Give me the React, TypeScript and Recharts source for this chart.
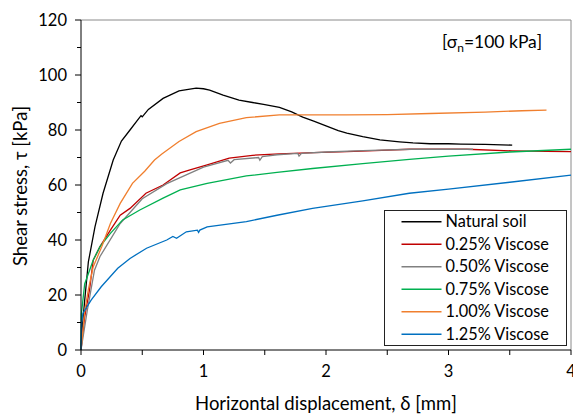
import React from 'react';
import { LineChart, Line, XAxis, YAxis, ReferenceLine, Legend, Customized } from 'recharts';

type Pt = { x: number; y: number };
const mk = (xs: number[], ys: number[]): Pt[] => xs.map((x, i) => ({ x, y: ys[i] }));

const naturalX = [0, 0.01, 0.03, 0.06, 0.114, 0.18, 0.263, 0.33, 0.4, 0.46, 0.49, 0.5, 0.55, 0.67, 0.8, 0.94, 1.0, 1.05, 1.16, 1.29, 1.4, 1.49, 1.62, 1.72, 1.81, 1.9, 2.0, 2.1, 2.17, 2.3, 2.44, 2.6, 2.71, 2.85, 3.0, 3.1, 3.3, 3.52];
const naturalY = [0, 8, 18, 32, 44.8, 57, 69.1, 76, 80, 83.5, 85.2, 84.8, 87.5, 91.5, 94.2, 95.2, 95, 94.5, 92.7, 90.9, 90, 89.3, 88.2, 86.6, 84.7, 83.2, 81.5, 79.8, 78.9, 77.6, 76.4, 75.7, 75.3, 75, 75, 74.9, 74.8, 74.5];

const v025X = [0, 0.03, 0.07, 0.1, 0.155, 0.24, 0.32, 0.4, 0.53, 0.67, 0.81, 0.89, 1.03, 1.21, 1.4, 1.62, 1.9, 2.17, 2.4, 2.68, 2.9, 3.15, 3.52, 3.8, 4.0];
const v025Y = [0, 12, 22, 32.7, 37.6, 43.6, 49, 51.5, 57, 60, 64.4, 65.5, 67.3, 69.8, 70.8, 71.3, 71.8, 72.1, 72.5, 73, 73, 73, 72.4, 72.2, 72.1];

const v050X = [0, 0.05, 0.11, 0.155, 0.32, 0.5, 0.7, 0.9, 1.0, 1.2, 1.22, 1.25, 1.45, 1.46, 1.48, 1.6, 1.77, 1.78, 1.8, 2.0, 2.3, 2.7, 3.0, 3.2];
const v050Y = [0, 14, 29, 34, 46, 55, 60.5, 64.5, 66.5, 69, 68, 69.2, 70, 69, 70.3, 71, 71.5, 70.5, 71.5, 72, 72.5, 73, 73, 73];

const v075X = [0, 0.003, 0.03, 0.1, 0.155, 0.24, 0.34, 0.48, 0.67, 0.81, 1.03, 1.35, 1.6, 1.89, 2.3, 2.68, 3.0, 3.5, 4.0];
const v075Y = [0, 13, 24, 32.7, 37.6, 42.4, 47.3, 50.9, 55.2, 58.2, 60.6, 63.3, 64.6, 66, 67.8, 69.3, 70.5, 72, 73];

const v100X = [0, 0.03, 0.06, 0.1, 0.17, 0.24, 0.32, 0.42, 0.52, 0.6, 0.66, 0.8, 0.94, 1.13, 1.35, 1.62, 1.9, 2.17, 2.5, 2.85, 3.3, 3.6, 3.8];
const v100Y = [0, 14, 22, 30.3, 37.6, 46, 53.3, 60.6, 65, 69.1, 71.3, 75.8, 79.4, 82.4, 84.5, 85.5, 85.5, 85.5, 85.6, 86, 86.5, 87, 87.2];

const v125X = [0, 0.005, 0.016, 0.084, 0.165, 0.3, 0.4, 0.535, 0.7, 0.75, 0.78, 0.86, 0.95, 0.96, 0.97, 1.03, 1.35, 1.6, 1.89, 2.3, 2.68, 3.0, 3.5, 4.0];
const v125Y = [0, 10, 13.4, 18.2, 23, 29.7, 33.3, 37, 40, 41.3, 40.6, 43, 43.6, 42.8, 43.6, 44.8, 46.7, 49, 51.5, 54.2, 57, 58.5, 61, 63.6];

const seriesNames = ['Natural soil', '0.25% Viscose', '0.50% Viscose', '0.75% Viscose', '1.00% Viscose', '1.25% Viscose'];
const seriesColors = ['#000000', '#c00000', '#808080', '#00b050', '#f07f2e', '#0070c0'];
const seriesData = [
  mk(naturalX, naturalY),
  mk(v025X, v025Y),
  mk(v050X, v050Y),
  mk(v075X, v075Y),
  mk(v100X, v100Y),
  mk(v125X, v125Y),
];

const xTicks = [0, 0.5, 1, 1.5, 2, 2.5, 3, 3.5, 4];
const yTicks = [0, 10, 20, 30, 40, 50, 60, 70, 80, 90, 100, 110, 120];

const FONT = 'Lato, "Open Sans", sans-serif';

const YTick = (props: any) => {
  const { x, y, payload } = props;
  const v = payload.value as number;
  const major = v % 20 === 0;
  return (
    <g>
      <line x1={x - (major ? 6 : 4)} x2={x} y1={y} y2={y} stroke="#000" strokeWidth={1} />
      {major && (
        <text x={x - 14} y={y} dy="0.35em" textAnchor="end" fontSize={16.5} fontFamily={FONT} fill="#000">
          {v}
        </text>
      )}
    </g>
  );
};

const XTick = (props: any) => {
  const { x, y, payload } = props;
  const v = payload.value as number;
  const major = Number.isInteger(v);
  return (
    <g>
      <line x1={x} x2={x} y1={y} y2={y + 5} stroke="#000" strokeWidth={1} />
      {major && (
        <text x={x} y={y + 21} dy="0.35em" textAnchor="middle" fontSize={16.5} fontFamily={FONT} fill="#000">
          {v}
        </text>
      )}
    </g>
  );
};

const LegendBox = () => (
  <svg width={183} height={136} style={{ display: 'block' }}>
    <rect x={0.5} y={0.5} width={182} height={135} fill="#fff" stroke="#222" strokeWidth={1} />
    {seriesNames.map((n, i) => {
      const cy = 11.7 + i * 22.5;
      return (
        <g key={n}>
          <line x1={17.5} x2={57.5} y1={cy} y2={cy} stroke={seriesColors[i]} strokeWidth={1.5} />
          <text x={61.5} y={cy} dy="0.35em" fontSize={16.3} fontFamily={FONT} fill="#000">
            {n}
          </text>
        </g>
      );
    })}
  </svg>
);

const Extras = () => (
  <g>
    <text x={21} y={186} transform="rotate(-90 21 186)" dy="0.35em" textAnchor="middle" fontSize={18.5} fontFamily={FONT} fill="#000">
      Shear stress, τ [kPa]
    </text>
    <text x={326} y={404} dy="0.35em" textAnchor="middle" fontSize={18.5} fontFamily={FONT} fill="#000">
      Horizontal displacement, δ [mm]
    </text>
    <text x={442} y={48} fontSize={17.5} fontFamily={FONT} fill="#000">
      <tspan>[σ</tspan>
      <tspan fontSize={12} dy={4}>n</tspan>
      <tspan dy={-4}>=100 kPa]</tspan>
    </text>
  </g>
);

export default function App() {
  return (
    <div style={{ position: 'absolute', left: 0, top: 0, width: 573, height: 414, background: '#fff' }}>
      <LineChart width={573} height={414} margin={{ top: 20, right: 2, bottom: 0, left: 0 }}>
        <XAxis
          type="number"
          dataKey="x"
          domain={[0, 4]}
          ticks={xTicks}
          interval={0}
          height={64}
          tickSize={0}
          tickMargin={0}
          tick={<XTick />}
          axisLine={{ stroke: '#000', strokeWidth: 1 }}
          allowDuplicatedCategory={false}
        />
        <YAxis
          type="number"
          domain={[0, 120]}
          ticks={yTicks}
          interval={0}
          width={81}
          tickSize={0}
          tickMargin={0}
          tick={<YTick />}
          axisLine={{ stroke: '#000', strokeWidth: 1 }}
        />
        <ReferenceLine y={120} stroke="#8a8a8a" strokeWidth={1} />
        <ReferenceLine x={4} stroke="#8a8a8a" strokeWidth={1} />
        {seriesData.map((d, i) => (
          <Line
            key={seriesNames[i]}
            data={d}
            dataKey="y"
            name={seriesNames[i]}
            type="linear"
            stroke={seriesColors[i]}
            strokeWidth={1.3}
            dot={false}
            activeDot={false}
            isAnimationActive={false}
          />
        ))}
        <Legend
          layout="vertical"
          align="center"
          verticalAlign="middle"
          content={<LegendBox />}
          wrapperStyle={{ left: 384, top: 210, width: 183, height: 136 }}
        />
        <Customized component={<Extras />} />
      </LineChart>
    </div>
  );
}
